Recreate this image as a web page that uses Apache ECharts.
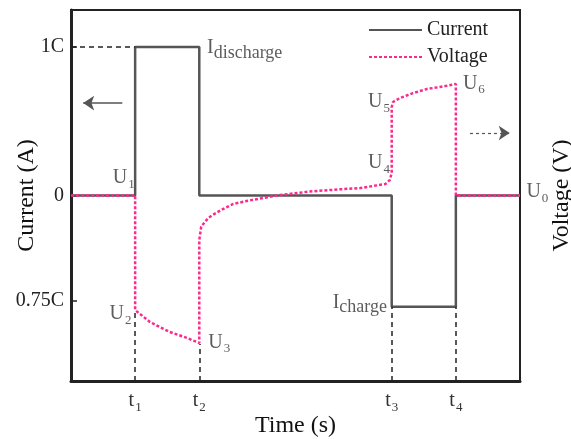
<!DOCTYPE html>
<html>
<head>
<meta charset="utf-8">
<script src="https://cdn.jsdelivr.net/npm/echarts@6/dist/echarts.min.js"></script>
<style>
html, body { margin: 0; padding: 0; background: #fff; }
#chart { width: 571px; height: 439px; }
</style>
</head>
<body>
<div id="chart"></div>
<script>
var SERIF = '"Liberation Serif", "Times New Roman", serif'

// time axis, t1..t4 marks
var timeTicks = [1, 2, 5, 6]
var timeTickNames = ['1', '2', '3', '4']

// current, in C units
var currentTicks = [1, 0, -0.71]
var currentTickNames = ['1C', '0', '0.75C']
var currentTime = [0, 1, 1, 2, 2, 5, 5, 6, 6, 7]
var currentValue = [0, 0, 1, 1, 0, 0, -0.75, -0.75, 0, 0]

// voltage (relative units)
var voltageTime = [0, 1, 1, 1.23, 1.54, 1.81, 2, 2, 2.03, 2.09, 2.14, 2.21, 2.37, 2.53, 2.74, 2.99, 3.26,
    3.57, 3.7, 4.3, 4.51, 4.71, 4.9, 4.97, 5, 5, 5.02, 5.13, 5.33, 5.55, 5.75, 6, 6, 7]
var voltageValue = [0, 0, -0.772, -0.852, -0.92, -0.96, -0.994, -0.3, -0.21, -0.177, -0.152, -0.131, -0.091, -0.057, -0.037, -0.017, 0.003,
    0.019, 0.026, 0.045, 0.05, 0.064, 0.077, 0.104, 0.152, 0.596, 0.63, 0.657, 0.69, 0.718, 0.731, 0.751, 0, 0]

// point names
var labelTime = [2.12, 0.65, 0.6, 2.14, 4.63, 4.63, 6.11, 7.1, 4.08]
var labelValue = [0.98, 0.11, -0.81, -1.0, 0.21, 0.62, 0.745, 0.015, -0.735]
var labelText = ['{m|I}{b|discharge}', '{m|U}{s|1}', '{m|U}{s|2}', '{m|U}{s|3}', '{m|U}{s|4}',
    '{m|U}{s|5}', '{m|U}{s|6}', '{m|U}{s|0}', '{m|I}{b|charge}']

// dashed guides
var guideStartTime = [0, 1, 2, 5, 6]
var guideStartValue = [1, -1.25, -1.25, -1.25, -1.25]
var guideEndTime = [1, 1, 2, 5, 6]
var guideEndValue = [1, -0.79, -1, -0.75, -0.75]

// axis arrows
var arrowFrom = [[0.8, 0.623], [6.22, 0.421]]
var arrowTo = [[0.19, 0.623], [6.84, 0.421]]

var rich = {
    m: { fontFamily: SERIF, fontSize: 20, color: '#333', verticalAlign: 'top', lineHeight: 22 },
    s: { fontFamily: SERIF, fontSize: 13, color: '#333', verticalAlign: 'top', padding: [10, 0, 0, 1] },
    b: { fontFamily: SERIF, fontSize: 18, color: '#333', verticalAlign: 'top', padding: [6, 0, 0, 0] }
}

function zip(a, b) {
    return a.map(function (v, i) { return [v, b[i]] })
}

var markData = guideStartTime.map(function (t, i) {
    return [{ coord: [t, guideStartValue[i]] }, { coord: [guideEndTime[i], guideEndValue[i]] }]
})
markData.push([
    { coord: arrowFrom[0], symbol: 'none' },
    { coord: arrowTo[0], symbol: 'arrow', lineStyle: { type: 'solid', color: '#555', width: 1.5 } }
])
markData.push([
    { coord: arrowFrom[1], symbol: 'none' },
    { coord: arrowTo[1], symbol: 'arrow', lineStyle: { type: [3, 3], color: '#555', width: 1.2 } }
])

var chart = echarts.init(document.getElementById('chart'))

var option = {
    animation: false,
    grid: {
        left: 71, right: 51, top: 10, bottom: 58,
        outerBoundsMode: 'none',
        show: true, borderColor: '#222', borderWidth: 2
    },
    legend: {
        data: ['Current', 'Voltage'],
        orient: 'vertical',
        left: 363,
        top: 15,
        itemWidth: 53,
        itemHeight: 14,
        itemGap: 7,
        itemStyle: { opacity: 0 },
        textStyle: { fontFamily: SERIF, fontSize: 20, color: '#222' }
    },
    xAxis: {
        type: 'value',
        min: 0,
        max: 7,
        interval: 1,
        name: 'Time (s)',
        nameLocation: 'middle',
        nameGap: 33,
        nameMoveOverlap: false,
        nameTextStyle: { fontFamily: SERIF, fontSize: 24, color: '#111' },
        axisLine: { onZero: false, lineStyle: { color: '#222', width: 3 } },
        axisTick: { show: false },
        splitLine: { show: false },
        axisLabel: {
            customValues: timeTicks,
            margin: 10,
            formatter: function (v) {
                var i = timeTicks.indexOf(v)
                return i < 0 ? '' : '{m|t}{s|' + timeTickNames[i] + '}'
            },
            rich: rich
        }
    },
    yAxis: [{
        type: 'value',
        min: -1.25,
        max: 1.25,
        name: 'Current (A)',
        nameLocation: 'middle',
        nameRotate: 90,
        nameGap: 32,
        nameMoveOverlap: false,
        nameTextStyle: { fontFamily: SERIF, fontSize: 24, color: '#111' },
        axisLine: { show: true, onZero: false, lineStyle: { color: '#222', width: 3 } },
        axisTick: { show: true, inside: true, length: 6, customValues: currentTicks, lineStyle: { color: '#222', width: 1.5 } },
        splitLine: { show: false },
        axisLabel: {
            customValues: currentTicks,
            margin: 7,
            fontFamily: SERIF,
            fontSize: 20,
            color: '#222',
            formatter: function (v) {
                var i = currentTicks.indexOf(v)
                return i < 0 ? '' : currentTickNames[i]
            }
        }
    }, {
        type: 'value',
        min: -1.25,
        max: 1.25,
        position: 'right',
        name: 'Voltage (V)',
        nameLocation: 'middle',
        nameRotate: 90,
        nameGap: 30,
        nameMoveOverlap: false,
        nameTextStyle: { fontFamily: SERIF, fontSize: 24, color: '#111' },
        axisLine: { show: true, onZero: false, lineStyle: { color: '#222', width: 2 } },
        axisTick: { show: false },
        axisLabel: { show: false },
        splitLine: { show: false }
    }],
    series: [{
        name: 'Current',
        type: 'line',
        data: zip(currentTime, currentValue),
        symbol: 'none',
        lineStyle: { color: '#555', width: 2.5 },
        itemStyle: { color: '#555' },
        markLine: {
            silent: true,
            symbol: ['none', 'none'],
            symbolSize: 11,
            label: { show: false },
            lineStyle: { type: [5, 4], color: '#222', width: 1.5 },
            data: markData
        }
    }, {
        name: 'Voltage',
        type: 'line',
        yAxisIndex: 1,
        data: zip(voltageTime, voltageValue),
        symbol: 'none',
        lineStyle: { color: '#fb2a8c', width: 2.5, type: [3, 2] },
        itemStyle: { color: '#fb2a8c' }
    }, {
        name: 'labels',
        type: 'scatter',
        symbolSize: 0,
        clip: false,
        silent: true,
        data: labelTime.map(function (t, i) {
            return { value: [t, labelValue[i]], label: { formatter: labelText[i] } }
        }),
        label: { show: true, position: 'right', distance: 0, rich: rich }
    }]
}

chart.setOption(option)
</script>
</body>
</html>
